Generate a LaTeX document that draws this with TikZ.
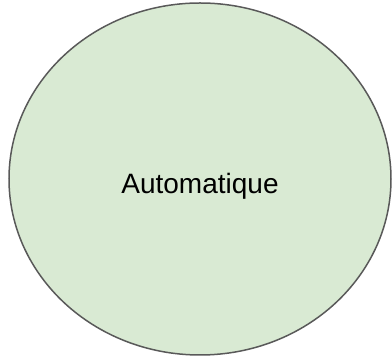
\documentclass[tikz,border=0pt]{standalone}
\usepackage{fontspec}
\setmainfont{Liberation Sans}
\definecolor{fillgreen}{HTML}{D9EAD3}
\definecolor{edgegray}{HTML}{595959}
\tikzset{
  blob/.style={ellipse, draw=edgegray, fill=fillgreen, line width=1.5pt,
    minimum width=382pt, minimum height=352pt, inner sep=0pt},
  label/.style={font=\fontsize{28}{32}\selectfont}
}
\usetikzlibrary{shapes.geometric}
\begin{document}
\begin{tikzpicture}[x=1pt,y=1pt]
\useasboundingbox (0,0) rectangle (392,358);
\node[blob] (e) at (200,179) {};
\node[label] (t) at (200,172) {Automatique};
\end{tikzpicture}
\end{document}
